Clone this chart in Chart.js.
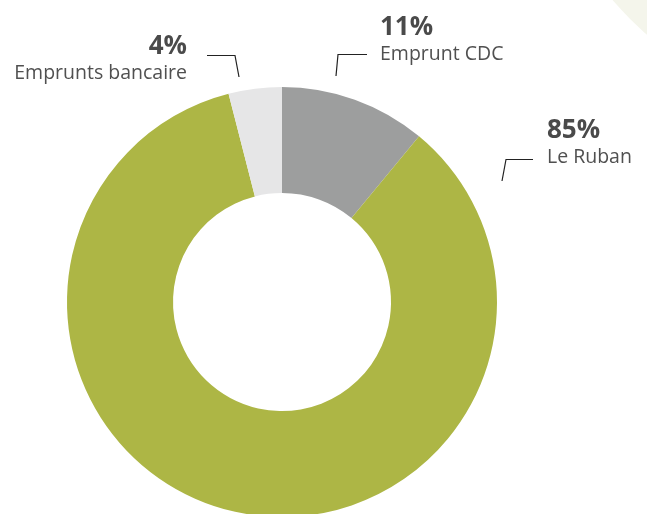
<!DOCTYPE html>
<html>
<head>
<meta charset="utf-8">
<script src="https://cdn.jsdelivr.net/npm/chart.js@4"></script>
<style>
    html, body { margin: 0; padding: 0; background: #fff; overflow: hidden; width: 647px; height: 514px; }
    .deco { position: absolute; left: 519px; top: -631px; width: 762px; height: 762px; border-radius: 50%; background: #f4f5eb; }
    .wrap { position: absolute; left: 0; top: 0; width: 647px; height: 600px; }
</style>
</head>
<body>
<div class="deco"></div>
<div class="wrap"><canvas id="donut"></canvas></div>
<script>
const categories = ['Emprunt CDC', 'Le Ruban', 'Emprunts bancaire']
const shares = [11, 85, 4]
const shareLabels = ['11%', '85%', '4%']
const colors = ['#9d9e9e', '#adb645', '#e6e6e7']

// label placement relative to the doughnut centre: text anchor, leader elbow, leader tip
const labelSpots = [
    { tx: 98, ty: -267, align: 'left', elbow: [56, -247.5], lineEnd: [85, -247.5], tip: [54, -226] },
    { tx: 265, ty: -164, align: 'left', elbow: [224, -142.5], lineEnd: [251, -142.5], tip: [220, -121] },
    { tx: -95, ty: -248, align: 'right', elbow: [-47, -246.5], lineEnd: [-75, -246.5], tip: [-43, -225] }
]

const labelPlugin = {
    id: 'labelPlugin',
    afterDraw(chart) {
        const ctx = chart.ctx
        const arc = chart.getDatasetMeta(0).data[0]
        const cx = arc.x
        const cy = arc.y
        ctx.save()
        labelSpots.forEach((spot, i) => {
            ctx.strokeStyle = '#222222'
            ctx.lineWidth = 1.2
            ctx.beginPath()
            ctx.moveTo(cx + spot.lineEnd[0], cy + spot.lineEnd[1])
            ctx.lineTo(cx + spot.elbow[0], cy + spot.elbow[1])
            ctx.lineTo(cx + spot.tip[0], cy + spot.tip[1])
            ctx.stroke()

            ctx.textAlign = spot.align
            ctx.textBaseline = 'alphabetic'
            ctx.fillStyle = '#4a4a4a'
            ctx.font = 'bold 26px "Open Sans"'
            ctx.fillText(shareLabels[i], cx + spot.tx, cy + spot.ty)
            ctx.fillStyle = '#505050'
            ctx.font = '19.5px "Open Sans"'
            ctx.fillText(categories[i], cx + spot.tx, cy + spot.ty + 25)
        })
        ctx.restore()
    }
}

new Chart(document.getElementById('donut'), {
    type: 'doughnut',
    data: {
        labels: categories,
        datasets: [{
            data: shares,
            backgroundColor: colors,
            borderWidth: 0,
            hoverOffset: 0
        }]
    },
    options: {
        responsive: true,
        maintainAspectRatio: false,
        animation: false,
        cutout: '50.7%',
        layout: { padding: { left: 67, right: 150, top: 87, bottom: 83 } },
        plugins: {
            legend: { display: false },
            tooltip: { enabled: false }
        }
    },
    plugins: [labelPlugin]
})
</script>
</body>
</html>
